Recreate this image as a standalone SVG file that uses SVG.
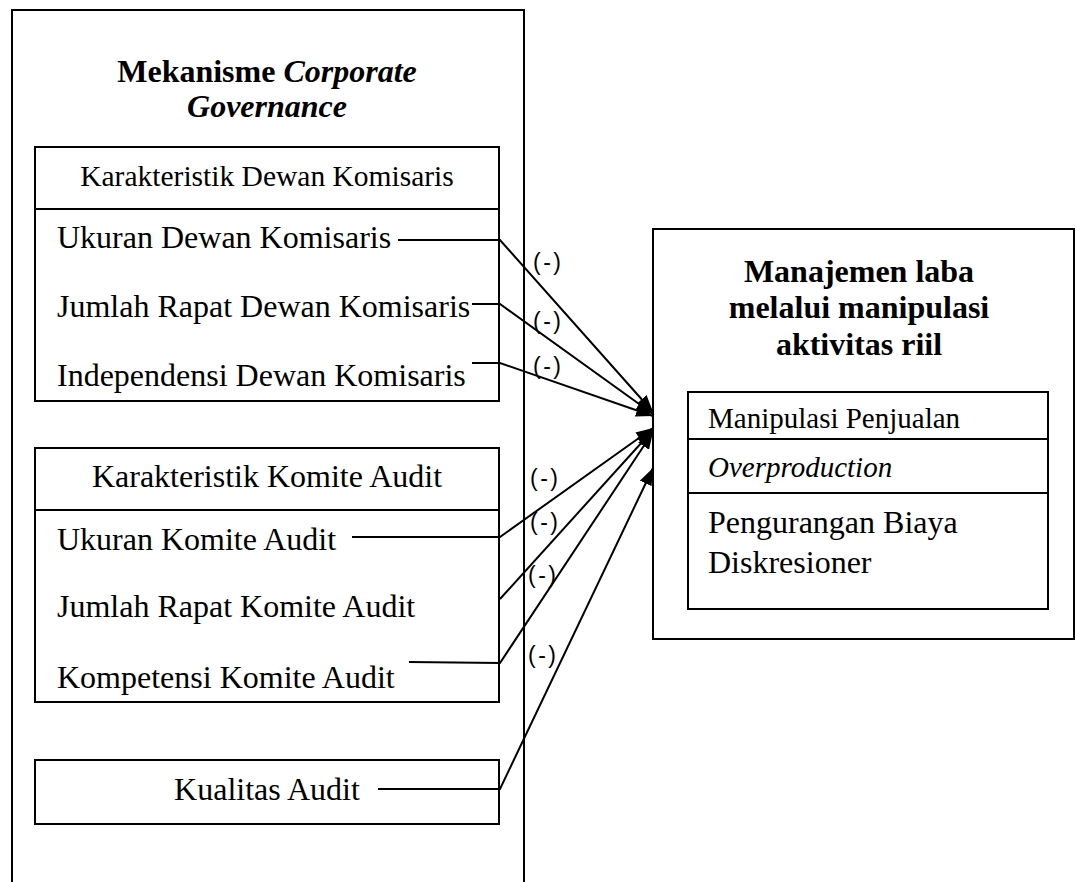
<svg xmlns="http://www.w3.org/2000/svg" width="1076" height="882" viewBox="0 0 1076 882">
<style>
.box{fill:#fff;stroke:#000;stroke-width:2}
.obox{fill:none;stroke:#000;stroke-width:2}
.div{stroke:#000;stroke-width:2}
.t{font-family:"Liberation Serif","Times New Roman",serif;font-size:32px;fill:#000}
.th{font-family:"Liberation Serif","Times New Roman",serif;font-size:29.5px;fill:#000}
.tb{font-family:"Liberation Serif","Times New Roman",serif;font-size:32px;font-weight:bold;fill:#000}
.ts{font-family:"Liberation Serif","Times New Roman",serif;font-size:29px;fill:#000}
.lbl{font-family:"Liberation Sans",Arial,sans-serif;font-size:23px;fill:#000;letter-spacing:2.5px}
.c{fill:none;stroke:#000;stroke-width:2}
</style>
<defs>
<marker id="ah" markerUnits="userSpaceOnUse" markerWidth="17" markerHeight="13" refX="17" refY="6.5" orient="auto">
<path d="M0,0 L17,6.5 L0,13 z" fill="#000"/>
</marker>
</defs>
<rect width="1076" height="882" fill="#fff"/>
<g id="cg">
<rect class="obox" x="12" y="10" width="512" height="900"/>
<text class="tb" x="267" y="82" text-anchor="middle">Mekanisme <tspan font-style="italic">Corporate</tspan></text>
<text class="tb" x="267" y="117" text-anchor="middle" font-style="italic">Governance</text>
</g>
<g id="dewan">
<rect class="box" x="35" y="147" width="464" height="254"/>
<line class="div" x1="35" y1="209" x2="499" y2="209"/>
<text class="th" x="267" y="186" text-anchor="middle">Karakteristik Dewan Komisaris</text>
<text class="t" x="57" y="248">Ukuran Dewan Komisaris</text>
<text class="t" x="57" y="317">Jumlah Rapat Dewan Komisaris</text>
<text class="t" x="57" y="386">Independensi Dewan Komisaris</text>
</g>
<g id="komite">
<rect class="box" x="35" y="448" width="464" height="254"/>
<line class="div" x1="35" y1="510" x2="499" y2="510"/>
<text class="t" x="267" y="487" text-anchor="middle">Karakteristik Komite Audit</text>
<text class="t" x="57" y="550">Ukuran Komite Audit</text>
<text class="t" x="57" y="617">Jumlah Rapat Komite Audit</text>
<text class="t" x="57" y="688">Kompetensi Komite Audit</text>
</g>
<g id="kualitas">
<rect class="box" x="35" y="760" width="464" height="64"/>
<text class="t" x="267" y="800" text-anchor="middle">Kualitas Audit</text>
</g>
<g id="ml">
<rect class="box" x="653" y="229" width="421" height="410"/>
<text class="tb" x="859" y="282" text-anchor="middle">Manajemen laba</text>
<text class="tb" x="859" y="318" text-anchor="middle">melalui manipulasi</text>
<text class="tb" x="859" y="355" text-anchor="middle">aktivitas riil</text>
<rect class="box" x="688" y="392" width="360" height="217"/>
<line class="div" x1="688" y1="439" x2="1048" y2="439"/>
<line class="div" x1="688" y1="493" x2="1048" y2="493"/>
<text class="ts" x="708" y="428">Manipulasi Penjualan</text>
<text class="ts" x="708" y="477" font-style="italic">Overproduction</text>
<text class="t" x="708" y="533">Pengurangan Biaya</text>
<text class="t" x="708" y="573">Diskresioner</text>
</g>
<g id="connectors">
<polyline class="c" points="398,240 500,240 653,412" marker-end="url(#ah)"/>
<polyline class="c" points="472,304 500,304 653,414" marker-end="url(#ah)"/>
<polyline class="c" points="472,363 500,363 653,416" marker-end="url(#ah)"/>
<polyline class="c" points="352,537 500,537 653,428" marker-end="url(#ah)"/>
<polyline class="c" points="500,599 653,430" marker-end="url(#ah)"/>
<polyline class="c" points="409,662 500,663 653,432" marker-end="url(#ah)"/>
<polyline class="c" points="378,789 500,789 653,468" marker-end="url(#ah)"/>
<text class="lbl" x="533" y="270">(-)</text>
<text class="lbl" x="533" y="329">(-)</text>
<text class="lbl" x="533" y="374">(-)</text>
<text class="lbl" x="530" y="486">(-)</text>
<text class="lbl" x="530" y="530">(-)</text>
<text class="lbl" x="528" y="583">(-)</text>
<text class="lbl" x="528" y="663">(-)</text>
</g>
</svg>
